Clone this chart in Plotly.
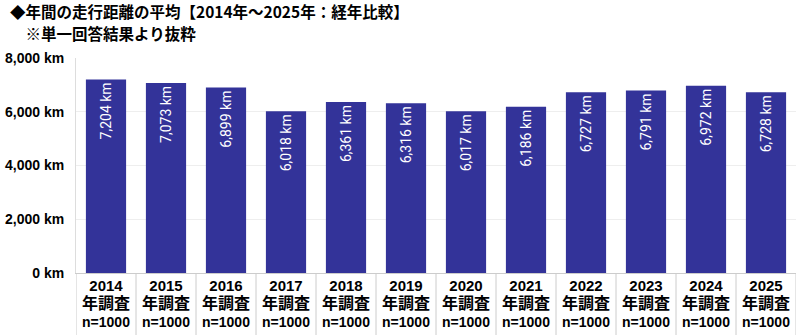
import plotly.graph_objects as go

years = ["2014", "2015", "2016", "2017", "2018", "2019", "2020", "2021", "2022", "2023", "2024", "2025"]
values = [7204, 7073, 6899, 6018, 6361, 6316, 6017, 6186, 6727, 6791, 6972, 6728]
sample = ["n=1000"] * 12
ytickvals = [0, 2000, 4000, 6000, 8000]
yticktext = ["0 km", "2,000 km", "4,000 km", "6,000 km", "8,000 km"]
title_lines = ["◆年間の走行距離の平均【2014年～2025年：経年比較】", "　※単一回答結果より抜粋"]

xlabels = [f"<b><span style='font-size:15px'>{y}</span><br><span style='font-size:16px'>年調査</span><br>{n}</b>"
           for y, n in zip(years, sample)]
bar_text = [f"{v:,} km" for v in values]

fig = go.Figure(go.Bar(
    x=list(range(len(years))), y=values,
    marker=dict(color="#333399", line=dict(width=0)),
    width=0.67,
    text=bar_text, textposition="inside", insidetextanchor="end",
    textangle=-90,
    textfont=dict(color="white", size=14, family="Roboto, Arial, sans-serif"),
    cliponaxis=False,
))

shapes = []
for i in range(len(years) + 1):
    shapes.append(dict(type="line", xref="x", yref="paper",
                       x0=i - 0.5, x1=i - 0.5, y0=0, y1=-0.29,
                       line=dict(color="#cccccc", width=1)))

annotations = []
for k, line in enumerate(title_lines):
    annotations.append(dict(
        text=f"<b>{line}</b>",
        xref="paper", yref="paper", x=-0.094, y=1.0, yshift=47 - 22 * k,
        xanchor="left", yanchor="middle", align="left", showarrow=False,
        font=dict(size=15.5, family="Noto Sans CJK JP, sans-serif", color="black")))

fig.update_layout(
    width=800, height=335,
    margin=dict(l=76, r=4, t=58, b=62),
    paper_bgcolor="white", plot_bgcolor="white",
    showlegend=False,
    shapes=shapes,
    annotations=annotations,
    font=dict(family="Liberation Sans, Arial, sans-serif", color="black"),
    xaxis=dict(tickvals=list(range(len(years))), ticktext=xlabels,
               range=[-0.5, len(years) - 0.5],
               tickfont=dict(size=14, family="Liberation Sans, Noto Sans CJK JP, sans-serif"),
               showline=True, linecolor="#cccccc", ticks="", showgrid=False),
    yaxis=dict(range=[0, 8000], tickvals=ytickvals, ticktext=[f"<b>{t}</b>" for t in yticktext],
               tickfont=dict(size=14, family="Liberation Sans, Arial, sans-serif"),
               showgrid=True, gridcolor="#eeeeee",
               showline=True, linecolor="#dddddd", ticks="", zeroline=False,
               ticklabelstandoff=8),
)

fig.write_html("out.html")
